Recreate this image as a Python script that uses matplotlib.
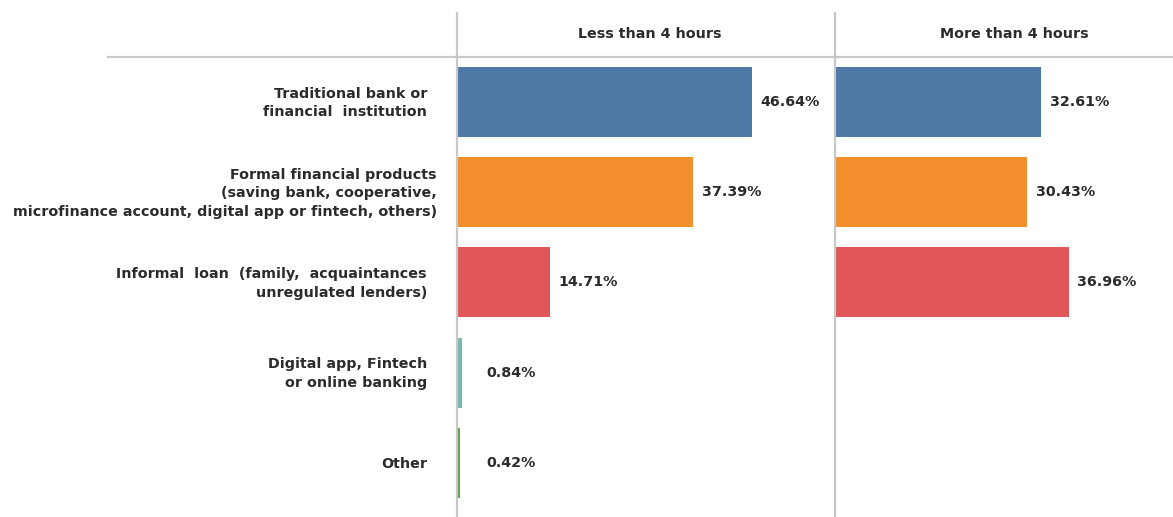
import matplotlib
matplotlib.use("Agg")
import matplotlib.pyplot as plt
from matplotlib.lines import Line2D

categories = [
    "Traditional bank or\nfinancial  institution",
    "Formal financial products\n(saving bank, cooperative,\nmicrofinance account, digital app or fintech, others)",
    "Informal  loan  (family,  acquaintances\nunregulated lenders)",
    "Digital app, Fintech\nor online banking",
    "Other",
]
panel_titles = ["Less than 4 hours", "More than 4 hours"]
less_than_4h = [46.64, 37.39, 14.71, 0.84, 0.42]
more_than_4h = [32.61, 30.43, 36.96, None, None]
colors = ["#4e79a7", "#f28e2b", "#e15759", "#76b7b2", "#59a14f"]

W, H = 1173, 517
DPI = 100
fig = plt.figure(figsize=(W / DPI, H / DPI), dpi=DPI)
plt.rcParams["font.family"] = ["DejaVu Sans"]
TEXT = "#2b2b2b"
GRID = "#c8c8c8"
PX_PER_PCT = 6.325
FS = 10.3
WEIGHT = "bold"


def fx(px):
    return px / W


def fy(py):
    return 1 - py / H


# panel geometry in pixels
panels = [(457, 835), (835, 1173)]
top, bottom = 57, 517

axes = []
for (x0, x1) in panels:
    ax = fig.add_axes([fx(x0), fy(bottom), fx(x1 - x0), (bottom - top) / H])
    ax.set_xlim(0, (x1 - x0) / PX_PER_PCT)
    ax.set_ylim(4.6, -0.5)
    ax.axis("off")
    axes.append(ax)

for ax, values in zip(axes, [less_than_4h, more_than_4h]):
    for i, v in enumerate(values):
        if v is None:
            continue
        ax.barh(i, v, height=0.776, color=colors[i], edgecolor="none")
        ax.annotate(f"{v:.2f}%", xy=(max(v, 2.5), i), xytext=(38, 0),
                    textcoords="offset pixels", ha="center", va="center",
                    fontsize=FS, fontweight=WEIGHT, color=TEXT)

# category labels to the left of the first panel
label_right = [427, 437, 427, 427, 427]
ax0 = axes[0]
for i, (lab, xr) in enumerate(zip(categories, label_right)):
    ax0.annotate(lab, xy=(0, i), xytext=(xr - 457, -1), textcoords="offset pixels",
                 ha="right", va="center", fontsize=FS, fontweight=WEIGHT,
                 color=TEXT, linespacing=1.42, multialignment="right")

# panel headers
for title, cx in zip(panel_titles, [650, 1014]):
    fig.text(fx(cx), fy(34), title, ha="center", va="center", fontsize=FS,
             fontweight=WEIGHT, color=TEXT)

# frame lines
fig.add_artist(Line2D([fx(108), fx(1173)], [fy(57), fy(57)], color=GRID, lw=1.6))
for xv in (457, 835):
    fig.add_artist(Line2D([fx(xv), fx(xv)], [fy(13), fy(517)], color=GRID, lw=1.6))

fig.savefig("out.png", dpi=DPI, facecolor="white")
